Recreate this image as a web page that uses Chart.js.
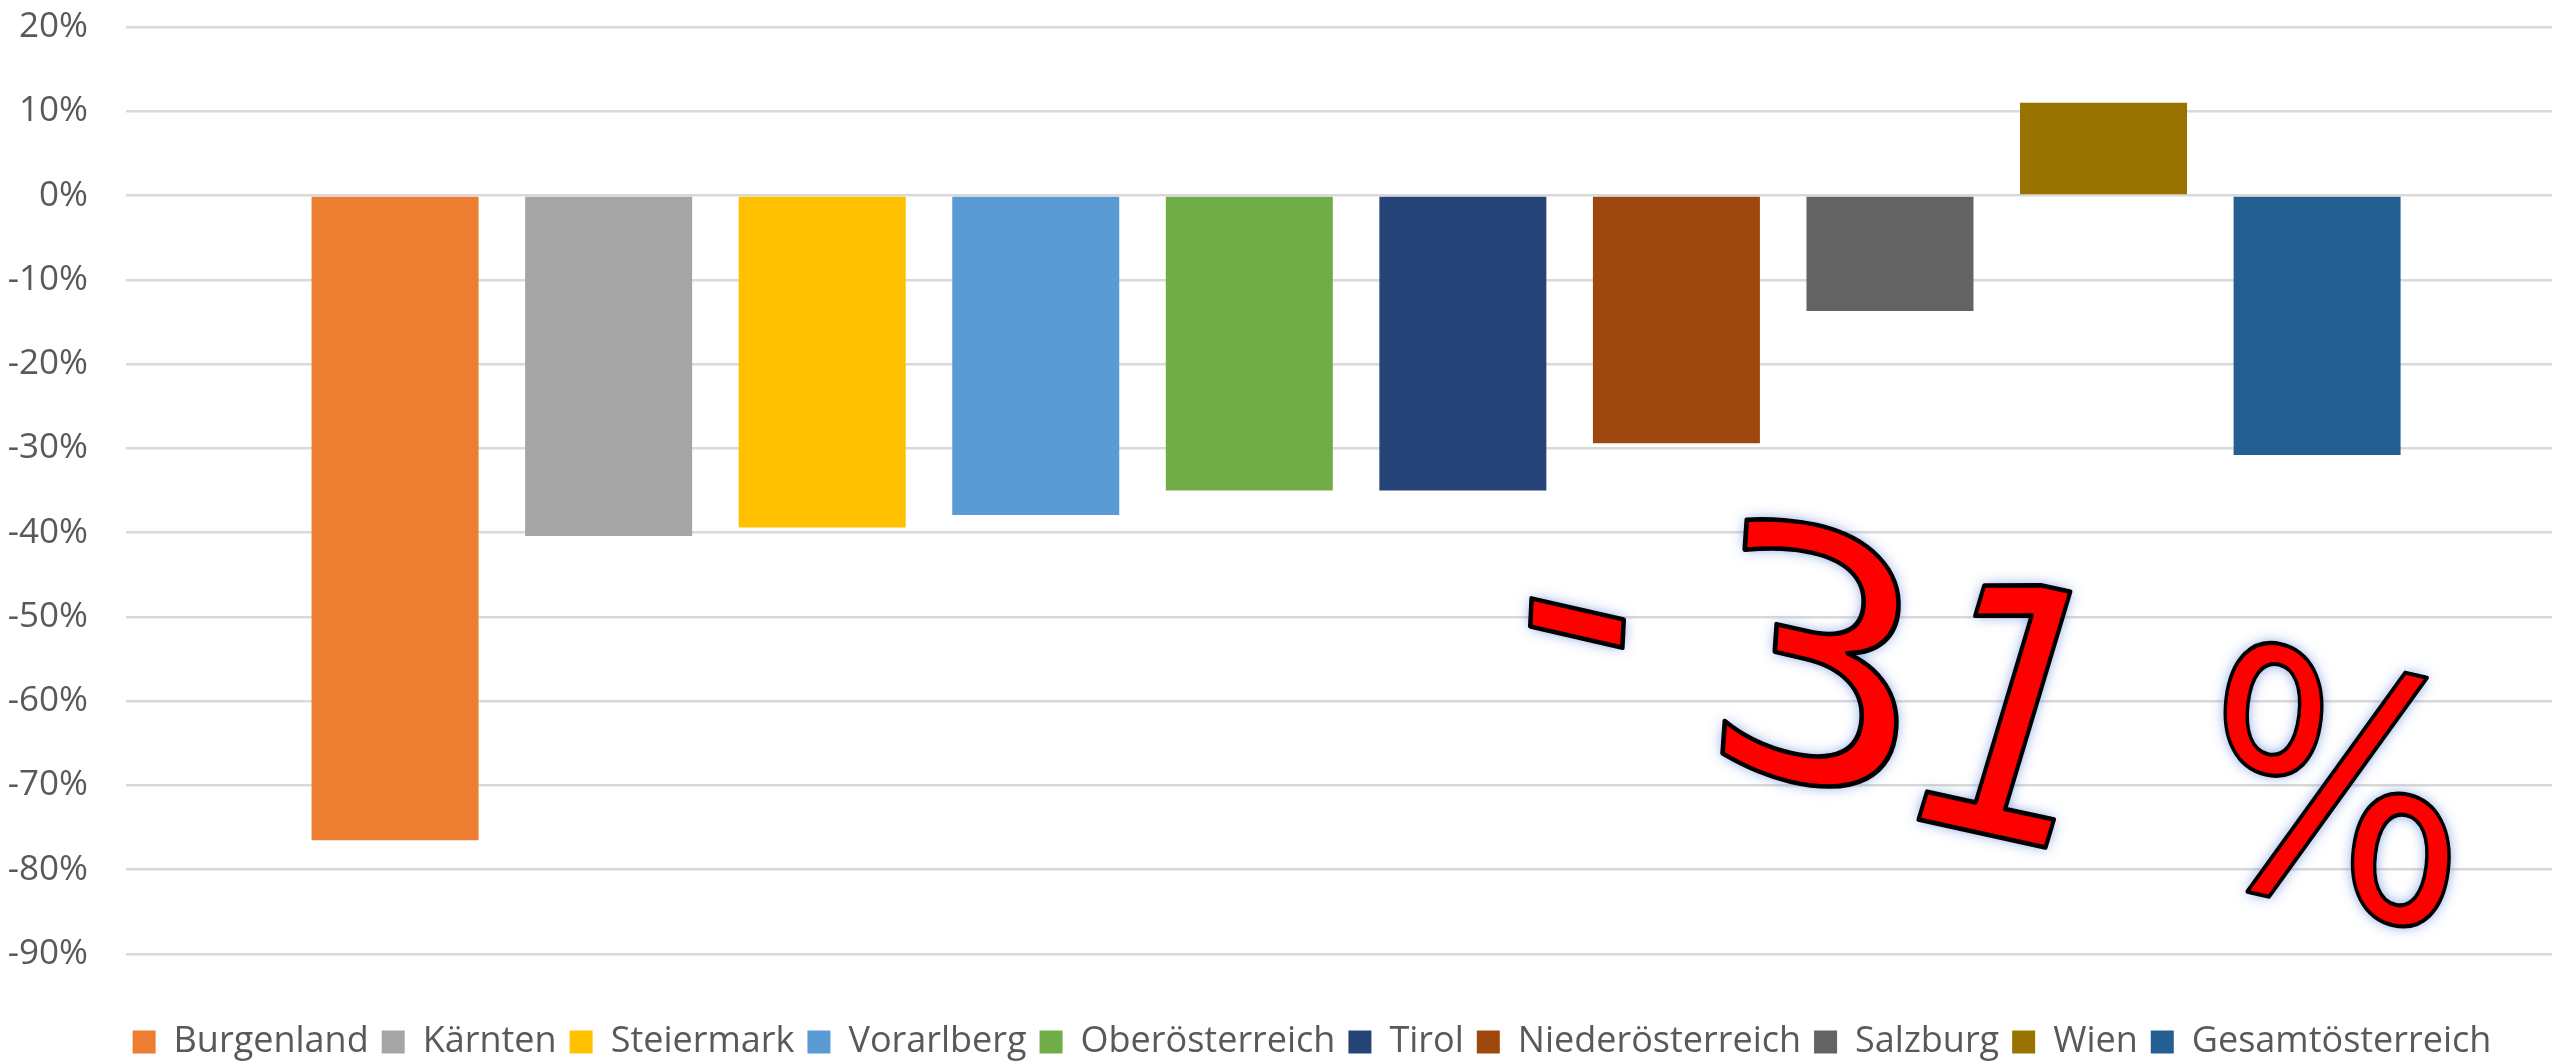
<!DOCTYPE html>
<html><head><meta charset="utf-8">
<script src="https://cdn.jsdelivr.net/npm/chart.js@4.4.1/dist/chart.umd.min.js"></script>
<style>html,body{margin:0;padding:0;background:#fff;overflow:hidden}#wrap{width:2552px;height:1064px;position:relative}</style>
</head><body><div id="wrap"><canvas id="c"></canvas></div>
<script>
// ---- data ----
const categories = ['Burgenland','Kärnten','Steiermark','Vorarlberg','Oberösterreich','Tirol','Niederösterreich','Salzburg','Wien','Gesamtösterreich'];
const changePercent = [-76.5,-40.4,-39.4,-37.9,-35.0,-35.0,-29.4,-13.7,11.0,-30.8];
const barColors = ['#ED7D31','#A5A5A5','#FFC000','#5B9BD5','#70AD47','#264478','#9E480E','#636363','#997300','#255E91'];
const yTicks = [-90,-80,-70,-60,-50,-40,-30,-20,-10,0,10,20];
const headline = '-31 %';

// ---- headline (WordArt) styling ----
const headlineLayout = [
  {x:1577, y:623, size:350, sx:1.0,  sy:1.0,  slope:0.23, lean:0.05, mid:0.274},
  {x:1816, y:656, size:342, sx:1.03, sy:1.0,  slope:0.23, lean:0.07, mid:0.3645},
  {x:2014, y:710, size:336, sx:0.9,  sy:1.0,  slope:0.22, lean:0.30, mid:0.3645},
  {x:2337, y:786, size:370, sx:0.76, sy:0.888,slope:0.23, lean:0.12, mid:0.36}
];

const headlinePlugin = {
  id: 'headline',
  afterDraw(chart) {
    const ctx = chart.ctx;
    const glyphs = headline.replace(/\s/g, '').split('');
    glyphs.forEach((ch, i) => {
      const g = headlineLayout[i];
      ctx.save();
      ctx.setTransform(g.sx, g.sx * g.slope, -g.sy * g.lean, g.sy, g.x, g.y);
      ctx.font = g.size + 'px "DejaVu Sans"';
      ctx.textAlign = 'center';
      ctx.textBaseline = 'alphabetic';
      const dy = g.size * g.mid;
      ctx.shadowColor = 'rgba(90,130,215,0.85)';
      ctx.shadowBlur = 14;
      ctx.fillStyle = '#FF0000';
      ctx.fillText(ch, 0, dy);
      ctx.shadowColor = 'rgba(0,0,0,0)';
      ctx.shadowBlur = 0;
      ctx.lineWidth = 4.5;
      ctx.lineJoin = 'round';
      ctx.strokeStyle = '#000';
      ctx.strokeText(ch, 0, dy);
      ctx.restore();
    });
  }
};

// centre the legend the way the (cropped) original did
const legendShift = {
  id: 'legendShift',
  afterLayout(chart) { if (chart.legend) chart.legend.left = 72; }
};

const axisFont = {family: '"Open Sans"', size: 35};
const legendFont = {family: '"Open Sans"', size: 36};

new Chart(document.getElementById('c'), {
  type: 'bar',
  data: {
    datasets: categories.map((name, i) => ({
      label: name,
      data: [{x: i, y: changePercent[i]}],
      backgroundColor: barColors[i],
      borderWidth: 0,
      grouped: false,
      categoryPercentage: 1,
      barPercentage: 0.782
    }))
  },
  options: {
    responsive: true,
    maintainAspectRatio: false,
    animation: false,
    layout: {padding: {left: 0, right: 0, top: 27, bottom: -6}},
    scales: {
      x: {
        type: 'linear', min: -1.26, max: 10.1, bounds: 'data', offset: false,
        afterBuildTicks(s) { s.ticks = categories.map((_, i) => ({value: i})); },
        ticks: {display: false},
        grid: {display: false},
        border: {display: false},
        afterFit(s) { s.height = 57; }
      },
      y: {
        min: -90, max: 20,
        afterBuildTicks(s) { s.ticks = yTicks.map(v => ({value: v})); },
        ticks: {callback: v => v + '%', font: axisFont, color: '#595959', padding: 0},
        grid: {color: '#d9d9d9', lineWidth: 2.5, drawTicks: true, tickLength: 38, tickColor: 'rgba(0,0,0,0)'},
        border: {display: false},
        afterFit(s) { s.width = 126; }
      }
    },
    plugins: {
      legend: {
        position: 'bottom',
        labels: {font: legendFont, color: '#595959', boxWidth: 23, boxHeight: 23, padding: 13}
      },
      tooltip: {enabled: false}
    }
  },
  plugins: [headlinePlugin, legendShift]
});
</script>
</body></html>
